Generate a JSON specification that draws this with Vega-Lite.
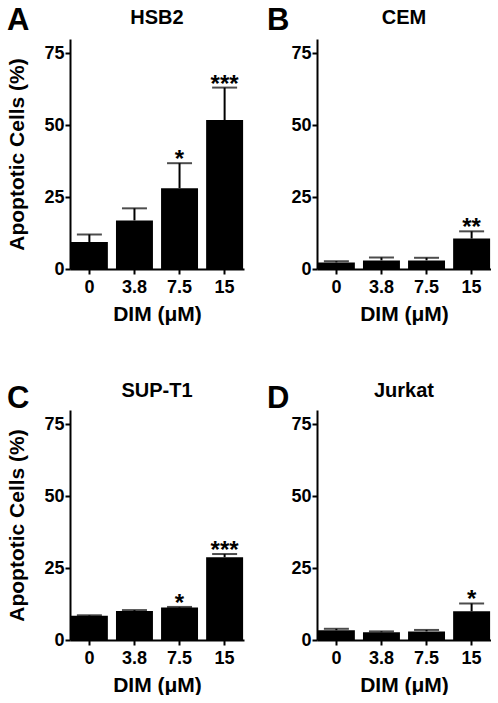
{
  "$schema": "https://vega.github.io/schema/vega-lite/v6.json",
  "padding": {"left": 6, "top": 5, "right": 0, "bottom": 0},
  "background": "white",
  "data": {"values": [
    {"panel": "A", "dose": "0", "mean": 9.4, "upper": 12.0, "sig": ""},
    {"panel": "A", "dose": "3.8", "mean": 16.9, "upper": 21.1, "sig": ""},
    {"panel": "A", "dose": "7.5", "mean": 28.1, "upper": 36.8, "sig": "*"},
    {"panel": "A", "dose": "15", "mean": 51.8, "upper": 63.1, "sig": "***"},
    {"panel": "B", "dose": "0", "mean": 2.3, "upper": 2.7, "sig": ""},
    {"panel": "B", "dose": "3.8", "mean": 3.0, "upper": 4.0, "sig": ""},
    {"panel": "B", "dose": "7.5", "mean": 3.0, "upper": 3.9, "sig": ""},
    {"panel": "B", "dose": "15", "mean": 10.6, "upper": 13.1, "sig": "**"},
    {"panel": "C", "dose": "0", "mean": 8.4, "upper": 8.6, "sig": ""},
    {"panel": "C", "dose": "3.8", "mean": 10.1, "upper": 10.4, "sig": ""},
    {"panel": "C", "dose": "7.5", "mean": 11.3, "upper": 11.5, "sig": "*"},
    {"panel": "C", "dose": "15", "mean": 28.8, "upper": 29.9, "sig": "***"},
    {"panel": "D", "dose": "0", "mean": 3.4, "upper": 3.9, "sig": ""},
    {"panel": "D", "dose": "3.8", "mean": 2.7, "upper": 3.0, "sig": ""},
    {"panel": "D", "dose": "7.5", "mean": 3.0, "upper": 3.5, "sig": ""},
    {"panel": "D", "dose": "15", "mean": 10.0, "upper": 12.7, "sig": "*"}
  ]},
  "config": {
    "font": "Liberation Sans",
    "view": {"stroke": null},
    "axis": {
      "labelFont": "Liberation Sans", "labelFontWeight": "bold", "labelFontSize": 18, "labelColor": "black",
      "titleFont": "Liberation Sans", "titleFontWeight": "bold", "titleFontSize": 21, "titleColor": "black",
      "domainColor": "black", "domainWidth": 2, "tickColor": "black", "tickWidth": 2, "tickSize": 5, "grid": false
    },
    "axisX": {"labelAngle": 0, "labelPadding": 4, "titlePadding": 7},
    "axisY": {"labelPadding": 1, "titlePadding": 16},
    "title": {"font": "Liberation Sans", "fontSize": 20, "fontWeight": "bold", "color": "black"},
    "concat": {"spacing": 22}
  },
  "spacing": 57,
  "vconcat": [
    {"hconcat": [
      {"title": {"text": "A", "anchor": "start", "frame": "bounds", "fontSize": 31, "offset": -29},
       "vconcat": [{
        "width": 174, "height": 230,
        "title": {"text": "HSB2", "offset": 11},
        "transform": [{"filter": "datum.panel == 'A'"}],
        "encoding": {"x": {"field": "dose", "type": "nominal", "sort": ["0", "3.8", "7.5", "15"], "scale": {"paddingInner": 0.18, "paddingOuter": 0.02}, "title": "DIM (μM)"}},
        "layer": [
          {"mark": {"type": "rule", "color": "black", "strokeWidth": 2}, "encoding": {"y": {"field": "mean", "type": "quantitative", "scale": {"domain": [0, 75]}, "axis": {"values": [0, 25, 50, 75]}, "title": "Apoptotic Cells (%)"}, "y2": {"field": "upper"}}},
          {"mark": {"type": "tick", "color": "black", "thickness": 2, "size": 25, "orient": "horizontal"}, "encoding": {"y": {"field": "upper", "type": "quantitative", "title": "Apoptotic Cells (%)"}}},
          {"mark": {"type": "bar", "color": "black"}, "encoding": {"y": {"field": "mean", "type": "quantitative", "title": "Apoptotic Cells (%)"}}},
          {"mark": {"type": "text", "baseline": "alphabetic", "dy": 4, "fontSize": 24, "fontWeight": "bold", "color": "black"}, "encoding": {"y": {"field": "upper", "type": "quantitative", "title": "Apoptotic Cells (%)"}, "text": {"field": "sig"}}}
        ]
      }]},
      {"title": {"text": "B", "anchor": "start", "frame": "bounds", "fontSize": 31, "offset": -29, "dx": -24},
       "vconcat": [{
        "width": 174, "height": 230,
        "title": {"text": "CEM", "offset": 11},
        "transform": [{"filter": "datum.panel == 'B'"}],
        "encoding": {"x": {"field": "dose", "type": "nominal", "sort": ["0", "3.8", "7.5", "15"], "scale": {"paddingInner": 0.18, "paddingOuter": 0.02}, "title": "DIM (μM)"}},
        "layer": [
          {"mark": {"type": "rule", "color": "black", "strokeWidth": 2}, "encoding": {"y": {"field": "mean", "type": "quantitative", "scale": {"domain": [0, 75]}, "axis": {"values": [0, 25, 50, 75]}, "title": null}, "y2": {"field": "upper"}}},
          {"mark": {"type": "tick", "color": "black", "thickness": 2, "size": 25, "orient": "horizontal"}, "encoding": {"y": {"field": "upper", "type": "quantitative", "title": null}}},
          {"mark": {"type": "bar", "color": "black"}, "encoding": {"y": {"field": "mean", "type": "quantitative", "title": null}}},
          {"mark": {"type": "text", "baseline": "alphabetic", "dy": 4, "fontSize": 24, "fontWeight": "bold", "color": "black"}, "encoding": {"y": {"field": "upper", "type": "quantitative", "title": null}, "text": {"field": "sig"}}}
        ]
      }]}
    ]},
    {"hconcat": [
      {"title": {"text": "C", "anchor": "start", "frame": "bounds", "fontSize": 31, "offset": -34},
       "vconcat": [{
        "width": 174, "height": 230,
        "title": {"text": "SUP-T1", "offset": 9},
        "transform": [{"filter": "datum.panel == 'C'"}],
        "encoding": {"x": {"field": "dose", "type": "nominal", "sort": ["0", "3.8", "7.5", "15"], "scale": {"paddingInner": 0.18, "paddingOuter": 0.02}, "title": "DIM (μM)"}},
        "layer": [
          {"mark": {"type": "rule", "color": "black", "strokeWidth": 2}, "encoding": {"y": {"field": "mean", "type": "quantitative", "scale": {"domain": [0, 75]}, "axis": {"values": [0, 25, 50, 75]}, "title": "Apoptotic Cells (%)"}, "y2": {"field": "upper"}}},
          {"mark": {"type": "tick", "color": "black", "thickness": 2, "size": 25, "orient": "horizontal"}, "encoding": {"y": {"field": "upper", "type": "quantitative", "title": "Apoptotic Cells (%)"}}},
          {"mark": {"type": "bar", "color": "black"}, "encoding": {"y": {"field": "mean", "type": "quantitative", "title": "Apoptotic Cells (%)"}}},
          {"mark": {"type": "text", "baseline": "alphabetic", "dy": 4, "fontSize": 24, "fontWeight": "bold", "color": "black"}, "encoding": {"y": {"field": "upper", "type": "quantitative", "title": "Apoptotic Cells (%)"}, "text": {"field": "sig"}}}
        ]
      }]},
      {"title": {"text": "D", "anchor": "start", "frame": "bounds", "fontSize": 31, "offset": -34, "dx": -24},
       "vconcat": [{
        "width": 174, "height": 230,
        "title": {"text": "Jurkat", "offset": 9},
        "transform": [{"filter": "datum.panel == 'D'"}],
        "encoding": {"x": {"field": "dose", "type": "nominal", "sort": ["0", "3.8", "7.5", "15"], "scale": {"paddingInner": 0.18, "paddingOuter": 0.02}, "title": "DIM (μM)"}},
        "layer": [
          {"mark": {"type": "rule", "color": "black", "strokeWidth": 2}, "encoding": {"y": {"field": "mean", "type": "quantitative", "scale": {"domain": [0, 75]}, "axis": {"values": [0, 25, 50, 75]}, "title": null}, "y2": {"field": "upper"}}},
          {"mark": {"type": "tick", "color": "black", "thickness": 2, "size": 25, "orient": "horizontal"}, "encoding": {"y": {"field": "upper", "type": "quantitative", "title": null}}},
          {"mark": {"type": "bar", "color": "black"}, "encoding": {"y": {"field": "mean", "type": "quantitative", "title": null}}},
          {"mark": {"type": "text", "baseline": "alphabetic", "dy": 4, "fontSize": 24, "fontWeight": "bold", "color": "black"}, "encoding": {"y": {"field": "upper", "type": "quantitative", "title": null}, "text": {"field": "sig"}}}
        ]
      }]}
    ]}
  ]
}
